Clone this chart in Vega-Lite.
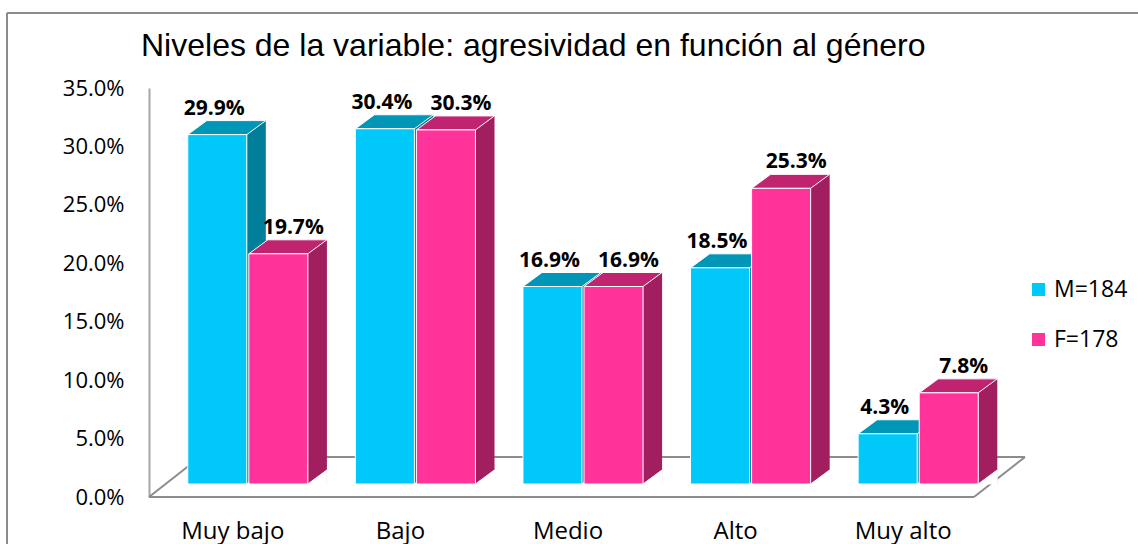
{
  "$schema": "https://vega.github.io/schema/vega-lite/v6.json",
  "width": 868,
  "height": 409,
  "autosize": {"type": "none"},
  "padding": {"left": 149, "top": 88, "right": 121, "bottom": 47},
  "background": "white",
  "config": {"view": {"stroke": null}, "font": "Open Sans"},
  "title": {
    "text": "Niveles de la variable: agresividad en función al género",
    "font": "Liberation Sans",
    "fontSize": 32,
    "fontWeight": "normal",
    "color": "#000000",
    "anchor": "start",
    "frame": "group",
    "dx": -8,
    "offset": -76,
    "baseline": "alphabetic"
  },
  "data": {
    "values": [
      {"nivel": "Muy bajo", "genero": "M=184", "pct": 0.299},
      {"nivel": "Muy bajo", "genero": "F=178", "pct": 0.197},
      {"nivel": "Bajo", "genero": "M=184", "pct": 0.304},
      {"nivel": "Bajo", "genero": "F=178", "pct": 0.303},
      {"nivel": "Medio", "genero": "M=184", "pct": 0.169},
      {"nivel": "Medio", "genero": "F=178", "pct": 0.169},
      {"nivel": "Alto", "genero": "M=184", "pct": 0.185},
      {"nivel": "Alto", "genero": "F=178", "pct": 0.253},
      {"nivel": "Muy alto", "genero": "M=184", "pct": 0.043},
      {"nivel": "Muy alto", "genero": "F=178", "pct": 0.078}
    ]
  },
  "layer": [
    {
      "data": {"values": [{}]},
      "mark": {"type": "rule", "color": "#8C8C8C", "strokeWidth": 2, "yOffset": -75, "xOffset": -142, "x2Offset": 125},
      "encoding": {"y": {"value": 0}, "x": {"value": 0}, "x2": {"value": "width"}}
    },
    {
      "data": {"values": [{}]},
      "mark": {"type": "rule", "color": "#8C8C8C", "strokeWidth": 2, "xOffset": -142, "x2Offset": -142, "yOffset": -75, "y2Offset": 60},
      "encoding": {"x": {"value": 0}, "x2": {"value": 0}, "y": {"value": 0}, "y2": {"value": "height"}}
    },
    {
      "data": {"values": [{}]},
      "mark": {"type": "rule", "color": "#8C8C8C", "strokeWidth": 2, "x2Offset": -43},
      "encoding": {"y": {"datum": 0, "type": "quantitative", "scale": {"domain": [0, 0.35], "nice": false}}, "x": {"value": 0}, "x2": {"value": "width"}}
    },
    {
      "data": {"values": [{}]},
      "mark": {"type": "rule", "color": "#8C8C8C", "strokeWidth": 2, "yOffset": -40, "xOffset": 51, "x2Offset": 8},
      "encoding": {"y": {"datum": 0, "type": "quantitative"}, "x": {"value": 0}, "x2": {"value": "width"}}
    },
    {
      "data": {"values": [{}]},
      "mark": {"type": "rule", "color": "#8C8C8C", "strokeWidth": 2, "x2Offset": 51, "y2Offset": -40},
      "encoding": {"y": {"datum": 0, "type": "quantitative"}, "y2": {"datum": 0}, "x": {"value": 0}, "x2": {"value": 0}}
    },
    {
      "data": {"values": [{}]},
      "mark": {"type": "rule", "color": "#8C8C8C", "strokeWidth": 2, "xOffset": -43, "x2Offset": 8, "y2Offset": -40},
      "encoding": {"y": {"datum": 0, "type": "quantitative"}, "y2": {"datum": 0}, "x": {"value": "width"}, "x2": {"value": "width"}}
    },
    {
      "transform": [{"filter": "datum.genero === 'M=184'"}],
      "mark": {"type": "rule", "strokeWidth": 19, "color": "#007E9A", "xOffset": 8.5, "yOffset": -27, "y2Offset": -13},
      "encoding": {
        "x": {"field": "nivel", "type": "nominal", "sort": ["Muy bajo", "Bajo", "Medio", "Alto", "Muy alto"], "scale": {"paddingInner": 0, "paddingOuter": 0.0896}},
        "y": {"field": "pct", "type": "quantitative"},
        "y2": {"datum": 0}
      }
    },
    {
      "transform": [{"filter": "datum.genero === 'F=178'"}],
      "mark": {"type": "rule", "strokeWidth": 19, "color": "#A11F5E", "xOffset": 69.6, "yOffset": -27, "y2Offset": -13},
      "encoding": {
        "x": {"field": "nivel", "type": "nominal", "sort": ["Muy bajo", "Bajo", "Medio", "Alto", "Muy alto"]},
        "y": {"field": "pct", "type": "quantitative"},
        "y2": {"datum": 0}
      }
    },
    {
      "mark": {"type": "point", "filled": true, "opacity": 1, "shape": "M 3.105 0.737 L 5.105 0.737 L 5.105 -0.737 Z", "size": 361, "yOffset": -20, "color": "white", "stroke": "white", "strokeWidth": 1},
      "encoding": {
        "x": {"field": "nivel", "type": "nominal", "sort": ["Muy bajo", "Bajo", "Medio", "Alto", "Muy alto"]},
        "xOffset": {"field": "genero", "type": "nominal", "sort": ["M=184", "F=178"], "scale": {"paddingInner": 0.033, "paddingOuter": 0.389}},
        "y": {"datum": 0, "type": "quantitative"}
      }
    },
    {
      "mark": {"type": "point", "filled": true, "opacity": 1, "shape": "M -0.7564 0.1795 L 0.7564 0.1795 L 1.2436 -0.1795 L -0.2692 -0.1795 Z", "size": 6084, "yOffset": -20, "stroke": "white", "strokeWidth": 1},
      "encoding": {
        "x": {"field": "nivel", "type": "nominal", "sort": ["Muy bajo", "Bajo", "Medio", "Alto", "Muy alto"]},
        "xOffset": {"field": "genero", "type": "nominal", "sort": ["M=184", "F=178"]},
        "y": {"field": "pct", "type": "quantitative"},
        "color": {"field": "genero", "type": "nominal", "scale": {"domain": ["M=184", "F=178"], "range": ["#0096B7", "#C0236F"]}, "legend": null}
      }
    },
    {
      "mark": {"type": "bar", "yOffset": -13, "y2Offset": -13, "stroke": "white", "strokeWidth": 1},
      "encoding": {
        "x": {
          "field": "nivel", "type": "nominal", "sort": ["Muy bajo", "Bajo", "Medio", "Alto", "Muy alto"],
          "axis": {"title": null, "domain": false, "ticks": false, "tickSize": 0, "labelAngle": 0, "labelAlign": "center", "labelFont": "Open Sans", "labelFontSize": 24, "labelColor": "#000000", "labelPadding": 34, "labelOffset": -15}
        },
        "xOffset": {"field": "genero", "type": "nominal", "sort": ["M=184", "F=178"]},
        "y": {
          "field": "pct", "type": "quantitative",
          "axis": {"title": null, "values": [0, 0.05, 0.1, 0.15, 0.2, 0.25, 0.3, 0.35], "format": ".1%", "grid": false, "ticks": false, "tickSize": 0, "domain": true, "domainColor": "#A6A6A6", "domainWidth": 2, "labelFont": "Open Sans", "labelFontSize": 22, "labelColor": "#000000", "labelPadding": 25}
        },
        "y2": {"datum": 0},
        "color": {
          "field": "genero", "type": "nominal",
          "scale": {"domain": ["M=184", "F=178"], "range": ["#00C8F8", "#FF3399"]},
          "legend": {"orient": "none", "legendX": 878, "legendY": 190, "title": null, "symbolType": "square", "symbolSize": 169, "symbolStrokeWidth": 0, "labelFont": "Open Sans", "labelFontSize": 23, "labelColor": "#000000", "rowPadding": 26, "labelOffset": 4}
        }
      }
    },
    {
      "transform": [{"filter": "datum.genero === 'M=184'"}],
      "mark": {"type": "text", "dy": -33, "dx": -3, "baseline": "alphabetic", "font": "Open Sans", "fontWeight": "bold", "fontSize": 21, "color": "#000000"},
      "encoding": {
        "x": {"field": "nivel", "type": "nominal", "sort": ["Muy bajo", "Bajo", "Medio", "Alto", "Muy alto"]},
        "xOffset": {"field": "genero", "type": "nominal", "sort": ["M=184", "F=178"]},
        "y": {"field": "pct", "type": "quantitative"},
        "text": {"field": "pct", "type": "quantitative", "format": ".1%"}
      }
    },
    {
      "transform": [{"filter": "datum.genero === 'F=178'"}],
      "mark": {"type": "text", "dy": -33, "dx": 15, "baseline": "alphabetic", "font": "Open Sans", "fontWeight": "bold", "fontSize": 21, "color": "#000000"},
      "encoding": {
        "x": {"field": "nivel", "type": "nominal", "sort": ["Muy bajo", "Bajo", "Medio", "Alto", "Muy alto"]},
        "xOffset": {"field": "genero", "type": "nominal", "sort": ["M=184", "F=178"]},
        "y": {"field": "pct", "type": "quantitative"},
        "text": {"field": "pct", "type": "quantitative", "format": ".1%"}
      }
    }
  ],
  "resolve": {"scale": {"color": "independent"}}
}
